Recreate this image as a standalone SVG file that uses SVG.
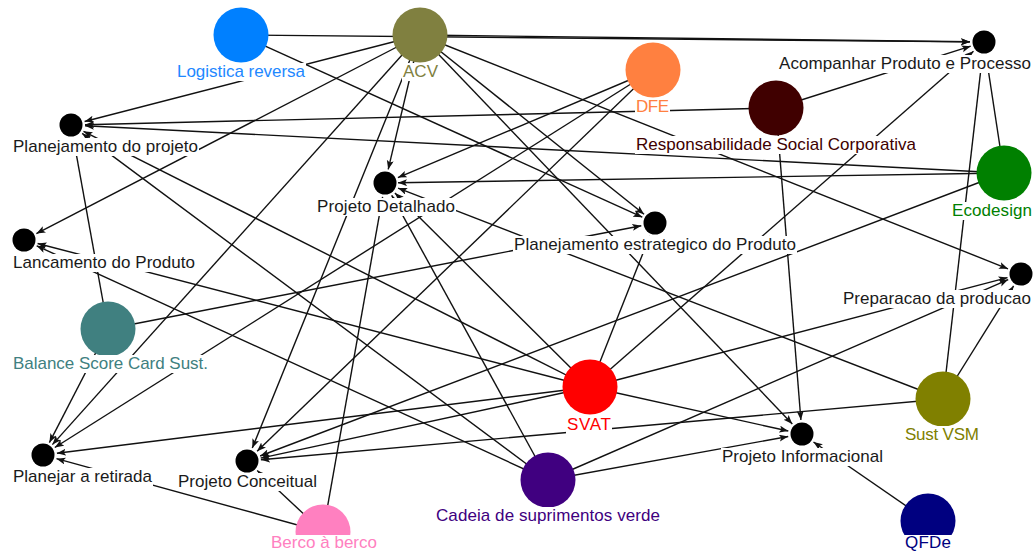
<svg xmlns="http://www.w3.org/2000/svg" width="1034" height="552" viewBox="0 0 1034 552">
<style>
.e{stroke:#111;stroke-width:1.4;fill:none;marker-end:url(#arr)}
.bg{fill:#fff}
text{font-family:"Liberation Sans",Arial,sans-serif;font-size:17px;text-anchor:middle}
.k{fill:#1a1a1a}
.s{fill:#000}
</style>
<defs>
<marker id="arr" markerUnits="userSpaceOnUse" markerWidth="10" markerHeight="8" refX="9" refY="3.5" orient="auto">
<path d="M0,0 L9,3.5 L0,7 L2,3.5 z" fill="#111"/>
</marker>
</defs>
<rect width="1034" height="552" fill="#fff"/>
<g id="edges">
<line class="e" x1="241" y1="35" x2="970" y2="41.9"/>
<line class="e" x1="420" y1="35" x2="970" y2="41.8"/>
<line class="e" x1="776" y1="108" x2="970.7" y2="46.2"/>
<line class="e" x1="1004" y1="173" x2="986.1" y2="55.8"/>
<line class="e" x1="590" y1="387" x2="973.5" y2="51.2"/>
<line class="e" x1="943" y1="399" x2="982.4" y2="55.9"/>
<line class="e" x1="420" y1="35" x2="84.6" y2="121.5"/>
<line class="e" x1="776" y1="108" x2="85" y2="124.7"/>
<line class="e" x1="1004" y1="173" x2="85" y2="125.7"/>
<line class="e" x1="108" y1="329" x2="73.5" y2="138.8"/>
<line class="e" x1="590" y1="387" x2="83.5" y2="131.3"/>
<line class="e" x1="548" y1="480" x2="82.2" y2="133.4"/>
<line class="e" x1="420" y1="35" x2="36.4" y2="233.6"/>
<line class="e" x1="590" y1="387" x2="37.6" y2="243.5"/>
<line class="e" x1="548" y1="480" x2="36.7" y2="245.8"/>
<line class="e" x1="420" y1="35" x2="388.2" y2="169.4"/>
<line class="e" x1="653" y1="70" x2="397.9" y2="177.6"/>
<line class="e" x1="1004" y1="173" x2="398" y2="182.8"/>
<line class="e" x1="590" y1="387" x2="394.9" y2="192.9"/>
<line class="e" x1="943" y1="399" x2="398.1" y2="188.1"/>
<line class="e" x1="548" y1="480" x2="391.7" y2="195.3"/>
<line class="e" x1="323" y1="532" x2="382.6" y2="196.8"/>
<line class="e" x1="241" y1="35" x2="642.3" y2="217.2"/>
<line class="e" x1="420" y1="35" x2="644.1" y2="214.3"/>
<line class="e" x1="108" y1="329" x2="641.3" y2="225.7"/>
<line class="e" x1="590" y1="387" x2="649.8" y2="236"/>
<line class="e" x1="420" y1="35" x2="1008" y2="268.8"/>
<line class="e" x1="590" y1="387" x2="1007.5" y2="277.6"/>
<line class="e" x1="943" y1="399" x2="1013.6" y2="285.9"/>
<line class="e" x1="548" y1="480" x2="1008.2" y2="279.6"/>
<line class="e" x1="420" y1="35" x2="52.4" y2="444.6"/>
<line class="e" x1="653" y1="70" x2="54.8" y2="447.5"/>
<line class="e" x1="108" y1="329" x2="49.4" y2="442.6"/>
<line class="e" x1="590" y1="387" x2="56.9" y2="453.3"/>
<line class="e" x1="323" y1="532" x2="56.5" y2="458.7"/>
<line class="e" x1="420" y1="35" x2="252.3" y2="448"/>
<line class="e" x1="653" y1="70" x2="257.1" y2="451.3"/>
<line class="e" x1="1004" y1="173" x2="260.1" y2="456"/>
<line class="e" x1="590" y1="387" x2="260.7" y2="458.1"/>
<line class="e" x1="943" y1="399" x2="260.9" y2="459.8"/>
<line class="e" x1="323" y1="532" x2="257.2" y2="470.6"/>
<line class="e" x1="420" y1="35" x2="792.3" y2="423.9"/>
<line class="e" x1="776" y1="108" x2="800.9" y2="420"/>
<line class="e" x1="590" y1="387" x2="788.3" y2="431"/>
<line class="e" x1="548" y1="480" x2="788.2" y2="436.5"/>
<line class="e" x1="928" y1="521" x2="813.5" y2="442"/>
</g>
<g id="n-logistica"><circle cx="241" cy="35" r="27.5" fill="#0080FF"/><rect class="bg" x="176" y="63" width="130" height="18"/><text x="241" y="77" textLength="128" fill="#1E88FF">Logistica reversa</text></g>
<g id="n-acv"><circle cx="420" cy="35" r="27.5" fill="#808040"/><rect class="bg" x="402" y="63" width="37" height="18"/><text x="420.5" y="77" textLength="35" fill="#808040">ACV</text></g>
<g id="n-dfe"><circle cx="653" cy="70" r="27.5" fill="#FF8040"/><rect class="bg" x="635" y="98" width="35" height="18"/><text x="652.5" y="112" textLength="33" fill="#FF8040">DFE</text></g>
<g id="n-rsc"><circle cx="776" cy="108" r="27.5" fill="#400000"/><rect class="bg" x="635" y="136" width="282" height="18"/><text x="776" y="150" textLength="280" fill="#400000">Responsabilidade Social Corporativa</text></g>
<g id="n-ecodesign"><circle cx="1004" cy="173" r="27.5" fill="#008000"/><rect class="bg" x="951" y="202" width="82" height="18"/><text x="992" y="216" textLength="80" fill="#008000">Ecodesign</text></g>
<g id="n-balance"><circle cx="108" cy="329" r="27.5" fill="#408080"/><rect class="bg" x="12" y="355" width="197" height="18"/><text x="110.5" y="369" textLength="195" fill="#408080">Balance Score Card Sust.</text></g>
<g id="n-svat"><circle cx="590" cy="387" r="27.5" fill="#FF0000"/><rect class="bg" x="566" y="416" width="46" height="18"/><text x="589" y="430" textLength="44" fill="#FF0000">SVAT</text></g>
<g id="n-sustvsm"><circle cx="943" cy="399" r="27.5" fill="#808000"/><rect class="bg" x="904" y="426" width="76" height="18"/><text x="942" y="440" textLength="74" fill="#808000">Sust VSM</text></g>
<g id="n-cadeia"><circle cx="548" cy="480" r="27.5" fill="#400080"/><rect class="bg" x="435" y="507" width="226" height="18"/><text x="548" y="521" textLength="224" fill="#400080">Cadeia de suprimentos verde</text></g>
<g id="n-berco"><circle cx="323" cy="532" r="27.5" fill="#FF80C0"/><rect class="bg" x="270" y="535" width="108" height="17"/><text x="324" y="548" textLength="106" fill="#FF80C0">Berco à berco</text></g>
<g id="n-qfde"><circle cx="928" cy="521" r="27.5" fill="#000080"/><rect class="bg" x="904" y="535" width="48" height="17"/><text x="928" y="548" textLength="46" fill="#000080">QFDe</text></g>
<g id="n-acompanhar"><circle class="s" cx="984" cy="42" r="11.5"/><rect class="bg" x="778" y="55" width="254" height="18"/><text class="k" x="905" y="69" textLength="252">Acompanhar Produto e Processo</text></g>
<g id="n-planprojeto"><circle class="s" cx="71" cy="125" r="11.5"/><rect class="bg" x="12" y="138" width="187" height="18"/><text class="k" x="105.5" y="152" textLength="185">Planejamento do projeto</text></g>
<g id="n-lancamento"><circle class="s" cx="24" cy="240" r="11.5"/><rect class="bg" x="12" y="254" width="184" height="18"/><text class="k" x="104" y="268" textLength="182">Lancamento do Produto</text></g>
<g id="n-detalhado"><circle class="s" cx="385" cy="183" r="11.5"/><rect class="bg" x="316" y="198" width="140" height="18"/><text class="k" x="386" y="212" textLength="138">Projeto Detalhado</text></g>
<g id="n-estrategico"><circle class="s" cx="655" cy="223" r="11.5"/><rect class="bg" x="513" y="236" width="284" height="18"/><text class="k" x="655" y="250" textLength="282">Planejamento estrategico do Produto</text></g>
<g id="n-preparacao"><circle class="s" cx="1021" cy="274" r="11.5"/><rect class="bg" x="842" y="290" width="190" height="18"/><text class="k" x="937" y="304" textLength="188">Preparacao da producao</text></g>
<g id="n-retirada"><circle class="s" cx="43" cy="455" r="11.5"/><rect class="bg" x="12" y="468" width="141" height="18"/><text class="k" x="82.5" y="482" textLength="139">Planejar a retirada</text></g>
<g id="n-conceitual"><circle class="s" cx="247" cy="461" r="11.5"/><rect class="bg" x="177" y="473" width="141" height="18"/><text class="k" x="247.5" y="487" textLength="139">Projeto Conceitual</text></g>
<g id="n-informacional"><circle class="s" cx="802" cy="434" r="11.5"/><rect class="bg" x="721" y="448" width="163" height="18"/><text class="k" x="802.5" y="462" textLength="161">Projeto Informacional</text></g>
</svg>
